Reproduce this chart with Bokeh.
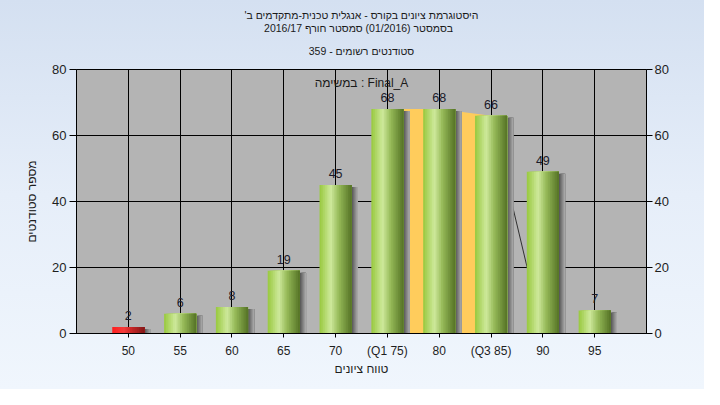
from bokeh.plotting import figure
from bokeh.models import LinearAxis, FixedTicker, Label, Range1d, Title
from bokeh.embed import file_html
from bokeh.resources import INLINE
from bokeh.core.properties import value

# ---------------- data ----------------
categories = ["50", "55", "60", "65", "70", "(Q1 75)", "80", "(Q3 85)", "90", "95"]
counts = [2, 6, 8, 19, 45, 68, 68, 66, 49, 7]
failing = ["50"]                                  # drawn in red
quartile_span = ["(Q1 75)", "80", "(Q3 85)"]      # orange band between quartiles
y_ticks = [0, 20, 40, 60, 80]

title_lines = [
    "היסטוגרמת ציונים בקורס - אנגלית טכנית-מתקדמים ב'\u200f",
    "בסמסטר  (01/2016)  סמסטר חורף 2016/17",
    "סטודנטים רשומים - 359",
]
task_label = "במשימה : Final_A"
x_title = "טווח ציונים"
y_title = "מספר סטודנטים"

FONT = "Liberation Sans"

# ---------------- figure ----------------
xs = [i + 1 for i in range(len(categories))]
p = figure(width=704, height=389, x_range=Range1d(0, len(categories) + 1),
           y_range=Range1d(y_ticks[0], y_ticks[-1]),
           output_backend="svg", toolbar_location=None,
           min_border_left=76, min_border_right=58, min_border_top=69, min_border_bottom=56)
p.styles = {"background": "linear-gradient(180deg, #d4e0f1 0%, #e6eef9 50%, #f0f6fd 100%)"}
p.border_fill_alpha = 0
p.background_fill_color = "#b4b4b4"
p.outline_line_color = "black"
p.title.visible = False

# stacked title lines (added nearest-first); the nearest one keeps a gap below it
for i, line in enumerate(reversed(title_lines)):
    kw = dict(standoff=22, vertical_align="top", text_baseline="top") if i == 0 else dict(standoff=-1)
    p.add_layout(Title(text=line, align="center", text_font=FONT, text_font_size="10.5px",
                       text_font_style="normal", text_color="#1a1a1a", **kw), "above")

# grids
p.xgrid.ticker = FixedTicker(ticks=xs)
p.ygrid.ticker = FixedTicker(ticks=y_ticks)
p.xgrid.grid_line_color = "black"
p.ygrid.grid_line_color = "black"

# axes
xaxis = p.below[0]
yaxis = p.left[0]
xaxis.ticker = FixedTicker(ticks=xs)
xaxis.major_label_overrides = {x: c for x, c in zip(xs, categories)}
xaxis.axis_label = x_title
yaxis.ticker = FixedTicker(ticks=y_ticks)
yaxis.axis_label = y_title
right = LinearAxis(ticker=FixedTicker(ticks=y_ticks))
p.add_layout(right, "right")

for ax in [xaxis, yaxis, right]:
    ax.axis_line_color = "black"
    ax.major_tick_line_color = "black"
    ax.minor_tick_line_color = None
    ax.major_tick_in = 0
    ax.major_label_text_font = FONT
    ax.major_label_text_color = "#1e1e1e"
    ax.axis_label_text_font = FONT
    ax.axis_label_text_font_style = "normal"
    ax.axis_label_text_font_size = "12px"
    ax.axis_label_text_color = "#1e1e1e"

xaxis.major_tick_out = 4
xaxis.major_label_standoff = 6
xaxis.major_label_text_font_size = "12px"
xaxis.axis_label_standoff = 1
yaxis.major_tick_out = 7
yaxis.major_label_standoff = 3
yaxis.major_label_text_font_size = "13px"
yaxis.axis_label_standoff = 10
right.major_tick_out = 6
right.major_label_standoff = 2
right.major_label_text_font_size = "13px"

# ---------------- quartile band + drop line ----------------
qi = [categories.index(c) for c in quartile_span]
p.varea(x=[xs[i] for i in qi], y1=0, y2=[counts[i] for i in qi], fill_color="#ffcc5c")
last_q = qi[-1]
p.line(x=[xs[last_q], xs[last_q + 1]], y=[counts[last_q], 0], line_color="#303030", line_width=1)

# ---------------- 3D-like cylinder bars ----------------
BAR_W = 0.62
N = 18

def lerp_stops(stops, t):
    for (t0, c0), (t1, c1) in zip(stops, stops[1:]):
        if t0 <= t <= t1:
            f = (t - t0) / (t1 - t0) if t1 > t0 else 0
            return "#%02x%02x%02x" % tuple(int(round(a + (b - a) * f)) for a, b in zip(c0, c1))
    return "#%02x%02x%02x" % stops[-1][1]

green = [(0.0, (152, 200, 62)), (0.35, (206, 233, 156)), (0.6, (150, 186, 88)), (1.0, (84, 114, 38))]
red = [(0.0, (255, 30, 30)), (0.35, (245, 60, 60)), (0.6, (200, 40, 40)), (1.0, (130, 24, 24))]
shadow = [(0.0, (90, 90, 90)), (1.0, (168, 168, 168))]

SH_N, SH_W = 6, 0.12
sl, sr, st, sc = [], [], [], []
bl, br, bt, bc = [], [], [], []
sw = BAR_W / N
for x, c, cat in zip(xs, counts, categories):
    stops = red if cat in failing else green
    right_edge = x + BAR_W / 2
    for k in range(SH_N):
        sl.append(right_edge + SH_W / SH_N * k)
        sr.append(right_edge + SH_W)
        st.append(c - 0.6)
        sc.append(lerp_stops(shadow, k / (SH_N - 1)))
    for k in range(N):
        bl.append(x - BAR_W / 2 + sw * k)
        br.append(right_edge)
        bt.append(c)
        bc.append(lerp_stops(stops, (k + 0.5) / N))

p.quad(left=sl, right=sr, top=st, bottom=0, fill_color=sc, line_color=None)
p.quad(left=bl, right=br, top=bt, bottom=0, fill_color=bc, line_color=None)

# value labels
p.text(x=xs, y=counts, text=[str(c) for c in counts], text_align="center", text_baseline="bottom",
       y_offset=-7, text_font=value(FONT), text_font_size="12.5px", text_color="#1a1a2a")

p.add_layout(Label(x=(len(categories) + 1) / 2, y=76, text=task_label, text_align="center",
                   text_baseline="middle", text_font=FONT, text_font_size="12px", text_color="#1a1a1a"))

open("out.html", "w").write(file_html(p, INLINE))
